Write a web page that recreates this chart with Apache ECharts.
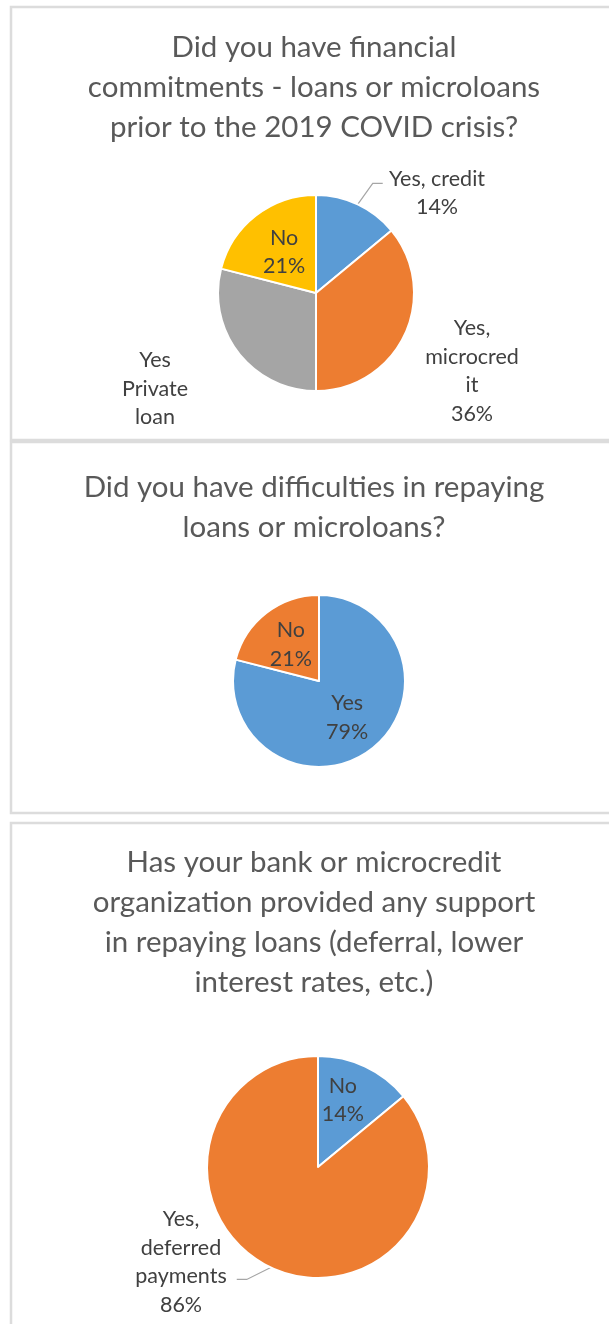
<!DOCTYPE html>
<html>
<head>
<meta charset="utf-8">
<title>Loans and microloans survey</title>
<script src="https://cdn.jsdelivr.net/npm/echarts@6/dist/echarts.min.js"></script>
<style>
  html, body { margin: 0; padding: 0; background: #ffffff; }
  #chart { width: 609px; height: 1324px; }
</style>
</head>
<body>
<div id="chart"></div>
<script>
// Survey question titles
const titles = [
  'Did you have financial\ncommitments - loans or microloans\nprior to the 2019 COVID crisis?',
  'Did you have difficulties in repaying\nloans or microloans?',
  'Has your bank or microcredit\norganization provided any support\nin repaying loans (deferral, lower\ninterest rates, etc.)'
];

// Q1: commitments before the crisis (%)
const q1Categories = ['Yes, credit', 'Yes,\nmicrocred\nit', 'Yes\nPrivate\nloan', 'No'];
const q1Values = [14, 36, 29, 21];

// Q2: difficulties repaying (%)
const q2Categories = ['Yes', 'No'];
const q2Values = [79, 21];

// Q3: support from the lender (%)
const q3Categories = ['No', 'Yes,\ndeferred\npayments'];
const q3Values = [14, 86];

const BLUE = '#5b9bd5', ORANGE = '#ed7d31', GRAY = '#a5a5a5', YELLOW = '#ffc000';
const FONT = 'Lato, "Open Sans", sans-serif';
const LABEL_COLOR = '#404040';

const chart = echarts.init(document.getElementById('chart'), null, { renderer: 'canvas' });

// Panel frames (right edge runs past the page)
const panels = [
  { y: 7, h: 433 },
  { y: 442, h: 371 },
  { y: 823, h: 540 }
];
const titleTops = [27, 467, 842];
const titleCenterX = 314;

const graphics = [];
panels.forEach(p => {
  graphics.push({
    type: 'rect', z: -10, silent: true,
    shape: { x: 11, y: p.y, width: 700, height: p.h },
    style: { fill: '#ffffff', stroke: '#dcdcdc', lineWidth: 2.5 }
  });
});
titles.forEach((t, i) => {
  graphics.push({
    type: 'text', silent: true,
    style: {
      text: t, x: titleCenterX, y: titleTops[i],
      textAlign: 'center', textVerticalAlign: 'top',
      font: '29.5px ' + FONT, lineHeight: 40, fill: '#595959'
    }
  });
});

// Placement of labels that sit outside their slice
const outsideLabels = {
  '0-0': { x: 437, y: 193, line: [[15, -21], [25, -21]] },
  '0-1': { x: 472, y: 371 },
  '0-2': { x: 155, y: 389 },
  '2-1': { x: 181, y: 1262, line: [[-24, 12], [-34, 12]] }
};
const insideShift = { '2-0': -14 };

function makeLayout(seriesIndex) {
  return function (params) {
    const key = seriesIndex + '-' + params.dataIndex;
    const o = outsideLabels[key];
    if (o) {
      const res = { x: o.x, y: o.y, align: 'center', verticalAlign: 'middle' };
      if (o.line && params.labelLinePoints) {
        const p0 = params.labelLinePoints[0];
        res.labelLinePoints = [
          [p0[0], p0[1]],
          [p0[0] + o.line[0][0], p0[1] + o.line[0][1]],
          [p0[0] + o.line[1][0], p0[1] + o.line[1][1]]
        ];
      }
      return res;
    }
    if (insideShift[key] !== undefined) {
      return { dy: insideShift[key] };
    }
    return {};
  };
}

const baseLabel = {
  fontFamily: FONT, fontSize: 21.5, color: LABEL_COLOR,
  lineHeight: 28.5, align: 'center', formatter: '{b}\n{c}%'
};

function pieSeries(idx, center, radius, cats, vals, colors, itemLabels) {
  return {
    type: 'pie',
    center: center,
    radius: radius,
    startAngle: 90,
    clockwise: true,
    avoidLabelOverlap: false,
    animation: false,
    itemStyle: { borderColor: '#ffffff', borderWidth: 2 },
    label: Object.assign({ position: 'outside' }, baseLabel),
    labelLine: { show: true, length: 20, length2: 10, lineStyle: { color: '#a6a6a6', width: 1.2 } },
    labelLayout: makeLayout(idx),
    data: cats.map((c, i) => {
      const d = { name: c, value: vals[i], itemStyle: { color: colors[i] } };
      if (itemLabels[i]) Object.assign(d, itemLabels[i]);
      return d;
    })
  };
}

const option = {
  backgroundColor: '#ffffff',
  graphic: graphics,
  series: [
    pieSeries(0, [316, 293], 98, q1Categories, q1Values, [BLUE, ORANGE, GRAY, YELLOW], [
      null,
      { labelLine: { show: false } },
      { labelLine: { show: false }, label: { formatter: '{b}' } },
      { label: { position: 'inside' }, labelLine: { show: false } }
    ]),
    pieSeries(1, [319, 681], 86, q2Categories, q2Values, [BLUE, ORANGE], [
      { label: { position: 'inside' }, labelLine: { show: false } },
      { label: { position: 'inside' }, labelLine: { show: false } }
    ]),
    pieSeries(2, [318, 1167], 111, q3Categories, q3Values, [BLUE, ORANGE], [
      { label: { position: 'inside' }, labelLine: { show: false } },
      null
    ])
  ]
};

chart.setOption(option);
</script>
</body>
</html>
